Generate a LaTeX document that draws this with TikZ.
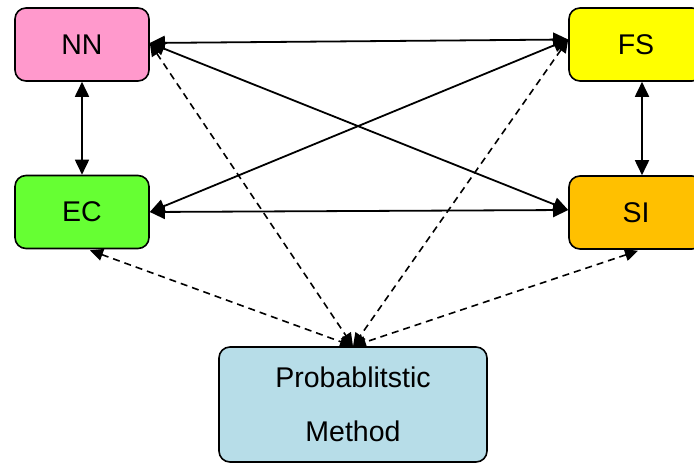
\documentclass[tikz,border=0pt]{standalone}
\usepackage{fontspec}
\setmainfont{Liberation Sans}
\usetikzlibrary{arrows.meta, positioning}
\definecolor{nnpink}{RGB}{255,153,204}
\definecolor{fsyellow}{RGB}{255,255,0}
\definecolor{ecgreen}{RGB}{102,255,51}
\definecolor{siorange}{RGB}{255,192,0}
\definecolor{pmblue}{RGB}{183,221,232}
\tikzstyle{block} = [rectangle, rounded corners=11pt, minimum width=134pt, minimum height=73pt, inner sep=0pt, text centered, draw=black, line width=1.6pt, font=\fontsize{28.5}{54}\selectfont]
\tikzstyle{link} = [line width=1.8pt, {Triangle[length=15pt,width=14pt]}-{Triangle[length=15pt,width=14pt]}]
\tikzstyle{dlink} = [line width=1.6pt, dash pattern=on 7pt off 5pt, {Triangle[length=13pt,width=12pt]}-{Triangle[length=13pt,width=12pt]}]

\begin{document}
\begin{tikzpicture}[x=1pt, y=1pt]
\useasboundingbox (0,0) rectangle (694,463);

% Four technique boxes
\node[block, fill=nnpink] (nn) at (82,418.5) {NN};
\node[block, fill=fsyellow] (fs) at (636,418.5) {FS};
\node[block, fill=ecgreen] (ec) at (82,251) {EC};
\node[block, fill=siorange] (si) at (636,250.5) {SI};

% Method box
\node[block, fill=pmblue, minimum width=268pt, minimum height=115pt, align=center] (pm) at (353,58.5) {Probablitstic\\Method};

% Solid links
\draw[link] (nn.south) -- (ec.north);
\draw[link] ([xshift=6pt]fs.south) -- ([xshift=6pt]si.north);
\draw[link] ([yshift=1.5pt]nn.east) -- ([yshift=5pt]fs.west);
\draw[link] ([yshift=1.5pt]nn.east) -- ([yshift=2.5pt]si.west);
\draw[link] (ec.east) -- ([yshift=5pt]fs.west);
\draw[link] (ec.east) -- ([yshift=2.5pt]si.west);

% Dashed links to the method
\draw[dlink] ([yshift=1.5pt]nn.east) -- (pm.north);
\draw[dlink] ([yshift=5pt]fs.west) -- (pm.north);
\draw[dlink] ([xshift=8pt,yshift=-1pt]ec.south) -- (pm.north);
\draw[dlink] ([xshift=2pt,yshift=-1pt]si.south) -- (pm.north);

\end{tikzpicture}
\end{document}
